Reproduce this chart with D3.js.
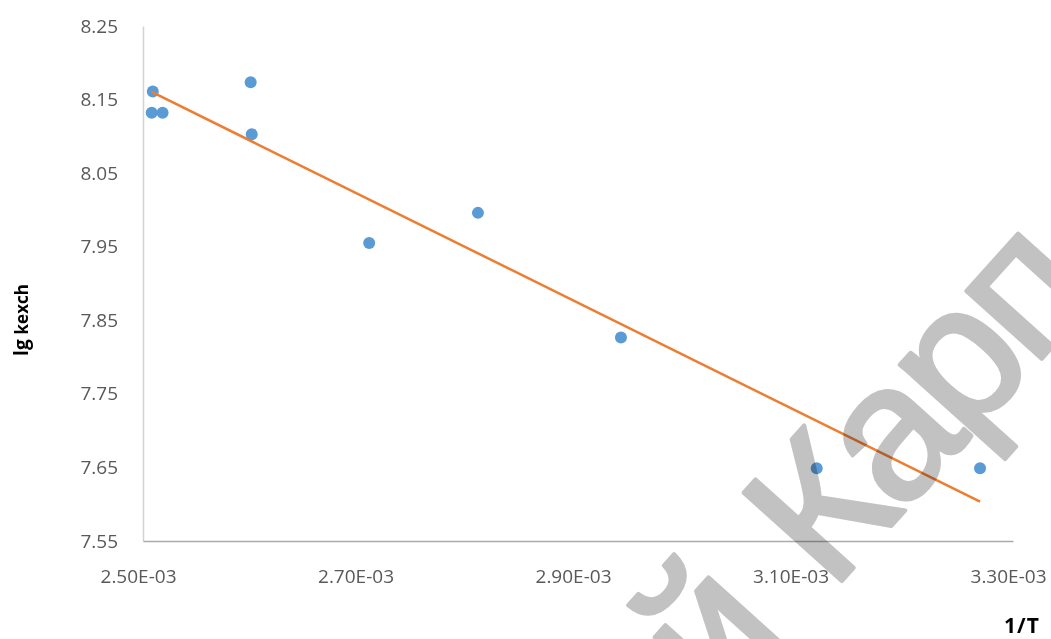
<!DOCTYPE html>
<html>
<head>
<meta charset="utf-8">
<script src="https://cdn.jsdelivr.net/npm/d3@7"></script>
<style>
  html, body { margin: 0; padding: 0; background: #fff; }
  svg { display: block; }
</style>
</head>
<body>
<svg id="chart" width="1051" height="639"></svg>
<script>
// ---- data ----
const invT = [0.002509, 0.002508, 0.002518, 0.002599, 0.002600, 0.002708, 0.002808, 0.0029395, 0.0031195, 0.0032697];
const lgK  = [8.161, 8.132, 8.132, 8.1735, 8.103, 7.955, 7.996, 7.8265, 7.649, 7.649];
const xTicks = [0.0025, 0.0027, 0.0029, 0.0031, 0.0033];
const yTicks = [7.55, 7.65, 7.75, 7.85, 7.95, 8.05, 8.15, 8.25];
const xTitle = "1/T";
const yTitleMain = "lg ";
const yTitleSub = "kexch";
const watermarkA = "й";
const watermarkB = " Карп";

// ---- layout ----
const plotL = 143, plotR = 1013, plotT = 26, plotB = 541;
const svg = d3.select("#chart");
const font = "'Open Sans', 'Liberation Sans', sans-serif";

const x = d3.scaleLinear().domain([0.0025, 0.0033]).range([plotL, plotR]);
const y = d3.scaleLinear().domain([7.55, 8.25]).range([plotB, plotT]);

// y axis
const yAxis = svg.append("g").attr("transform", `translate(${plotL},0)`)
  .call(d3.axisLeft(y).tickValues(yTicks).tickSize(0).tickPadding(25).tickFormat(d3.format(".2f")));
yAxis.select(".domain").attr("stroke", "#d3d3d3").attr("stroke-width", 1.5);
yAxis.selectAll("text").attr("font-family", font).attr("font-size", 19).attr("fill", "#595959");

// x axis
const xAxis = svg.append("g").attr("transform", `translate(0,${plotB})`)
  .call(d3.axisBottom(x).tickValues(xTicks).tickSize(0).tickPadding(29)
    .tickFormat(v => (v * 1000).toFixed(2) + "E-03"));
xAxis.select(".domain").attr("stroke", "#ababab").attr("stroke-width", 1.5);
xAxis.selectAll("text").attr("font-family", font).attr("font-size", 19).attr("fill", "#595959")
  .attr("dx", -5);

// points
const pts = invT.map((v, i) => ({ x: v, y: lgK[i] }));
svg.append("g").selectAll("circle").data(pts).join("circle")
  .attr("cx", d => x(d.x)).attr("cy", d => y(d.y)).attr("r", 6)
  .attr("fill", "#5b9bd5");

// linear trendline (least squares, like Excel)
const mx = d3.mean(invT), my = d3.mean(lgK);
const sxy = d3.sum(invT, (v, i) => (v - mx) * (lgK[i] - my));
const sxx = d3.sum(invT, v => (v - mx) * (v - mx));
const slope = sxy / sxx, icpt = my - slope * mx;
const xr = d3.extent(invT);
svg.append("path")
  .datum(xr.map(v => [v, icpt + slope * v]))
  .attr("d", d3.line().x(d => x(d[0])).y(d => y(d[1])))
  .attr("fill", "none").attr("stroke", "#ed7d31").attr("stroke-width", 2.5);

// axis titles
const yt = svg.append("text")
  .attr("transform", "translate(28,320) rotate(-90)")
  .attr("text-anchor", "middle")
  .attr("font-family", font).attr("font-weight", "bold").attr("fill", "#000");
yt.append("tspan").attr("font-size", 19).text(yTitleMain);
yt.append("tspan").attr("font-size", 17).text(yTitleSub);

svg.append("text")
  .attr("x", 1022).attr("y", 633)
  .attr("text-anchor", "middle")
  .attr("font-family", font).attr("font-weight", "bold").attr("font-size", 21)
  .attr("letter-spacing", 1)
  .attr("fill", "#000").text(xTitle);

// watermark overlay
const wm = svg.append("text")
  .attr("transform", "translate(721,715) rotate(-48)")
  .attr("font-family", "'Liberation Sans', Arial, sans-serif")
  .attr("font-size", 192)
  .attr("letter-spacing", -8)
  .attr("fill", "#c2c2c2").attr("stroke", "#c2c2c2").attr("stroke-width", 4)
  .attr("stroke-linejoin", "round")
  .style("mix-blend-mode", "multiply");
wm.append("tspan").text(watermarkA);
wm.append("tspan").attr("dx", 20).text(watermarkB);
</script>
</body>
</html>
